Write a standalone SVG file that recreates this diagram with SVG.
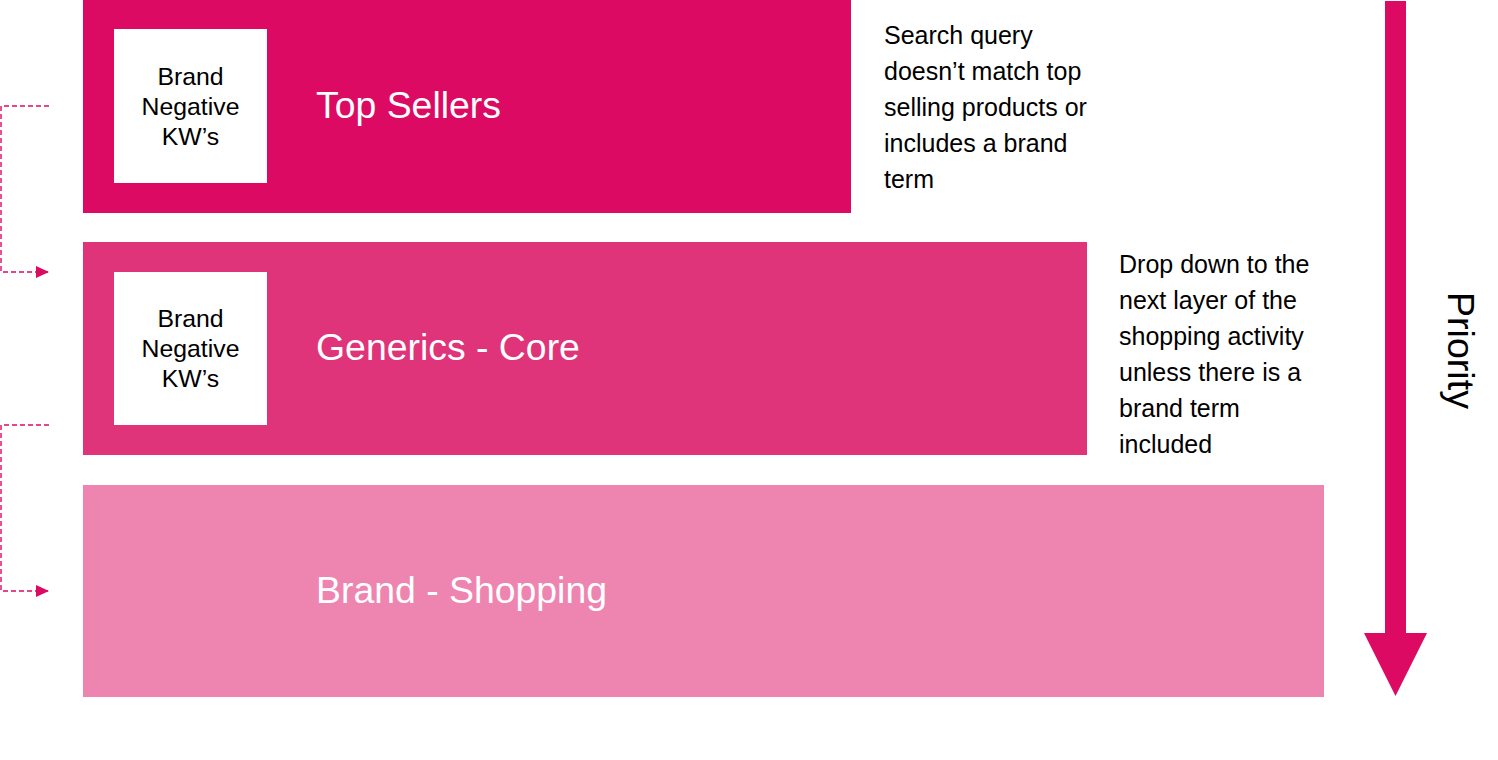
<svg xmlns="http://www.w3.org/2000/svg" width="1498" height="760" viewBox="0 0 1498 760">
<style>
.t{font-family:"Liberation Sans",Arial,sans-serif}
.big{font-size:37.4px;fill:#ffffff}
.kw{font-size:24.8px;fill:#000000;text-anchor:middle}
.note{font-size:25px;fill:#000000}
.dash{fill:none;stroke:#DC0A63;stroke-width:1.4;stroke-dasharray:5 3}
</style>
<defs>
<marker id="ah" markerWidth="13" markerHeight="12" refX="13" refY="6" orient="auto" markerUnits="userSpaceOnUse">
<path d="M0,0 L13,6 L0,12 Z" fill="#DC0A63"/>
</marker>
</defs>
<rect width="1498" height="760" fill="#ffffff"/>
<g id="top-sellers">
<rect x="83" y="0" width="768" height="213" fill="#DC0A63"/>
<rect x="114" y="29" width="153" height="154" fill="#ffffff"/>
<text class="t kw" x="190.5" y="85">Brand</text>
<text class="t kw" x="190.5" y="115">Negative</text>
<text class="t kw" x="190.5" y="145">KW’s</text>
<text class="t big" x="316" y="118">Top Sellers</text>
</g>
<g id="note-top">
<text class="t note" x="884" y="44">Search query</text>
<text class="t note" x="884" y="80">doesn’t match top</text>
<text class="t note" x="884" y="116">selling products or</text>
<text class="t note" x="884" y="152">includes a brand</text>
<text class="t note" x="884" y="188">term</text>
</g>
<g id="generics-core">
<rect x="83" y="242" width="1004" height="213" fill="#E0347A"/>
<rect x="114" y="272" width="153" height="153" fill="#ffffff"/>
<text class="t kw" x="190.5" y="327">Brand</text>
<text class="t kw" x="190.5" y="357">Negative</text>
<text class="t kw" x="190.5" y="387">KW’s</text>
<text class="t big" x="316" y="360">Generics - Core</text>
</g>
<g id="note-generics">
<text class="t note" x="1119" y="273">Drop down to the</text>
<text class="t note" x="1119" y="309">next layer of the</text>
<text class="t note" x="1119" y="345">shopping activity</text>
<text class="t note" x="1119" y="381">unless there is a</text>
<text class="t note" x="1119" y="417">brand term</text>
<text class="t note" x="1119" y="453">included</text>
</g>
<g id="brand-shopping">
<rect x="83" y="485" width="1241" height="212" fill="#EE85B0"/>
<text class="t big" x="316" y="603">Brand - Shopping</text>
</g>
<g id="priority">
<path d="M1385,1 H1406 V633 H1427 L1395.5,696 L1364,633 H1385 Z" fill="#DC0A63"/>
<text class="t" font-size="37.6" fill="#000000" transform="translate(1448,292) rotate(90)">Priority</text>
</g>
<g id="connectors">
<path class="dash" d="M49,106 H1 V272 H49" marker-end="url(#ah)"/>
<path class="dash" d="M49,425 H1 V591 H49" marker-end="url(#ah)"/>
</g>
</svg>
